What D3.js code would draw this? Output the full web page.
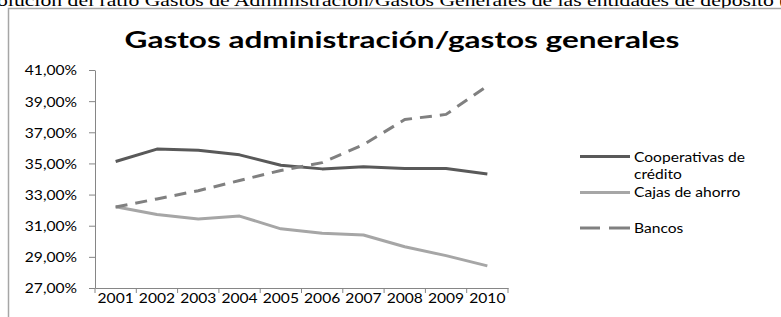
<!DOCTYPE html>
<html><head><meta charset="utf-8">
<script src="https://cdn.jsdelivr.net/npm/d3@7"></script>
<style>
html,body{margin:0;padding:0;background:#fff;overflow:hidden;}
svg{display:block;}
</style></head>
<body>
<svg id="chart" width="781" height="317"></svg>
<script>
const years = ["2001","2002","2003","2004","2005","2006","2007","2008","2009","2010"];
const cooperativas = [35.12, 35.92, 35.85, 35.55, 34.88, 34.65, 34.78, 34.68, 34.68, 34.32];
const cajas = [32.22, 31.72, 31.43, 31.62, 30.8, 30.52, 30.4, 29.65, 29.08, 28.42];
const bancos = [32.2, 32.72, 33.25, 33.9, 34.55, 35.05, 36.2, 37.82, 38.15, 39.98];
const yTicks = [27, 29, 31, 33, 35, 37, 39, 41];
const seriesNames = ["Cooperativas de crédito", "Cajas de ahorro", "Bancos"];
const titleText = "Gastos administración/gastos generales";
const headerText = "olución del ratio Gastos de Administración/Gastos Generales de las entidades de depósito (";

const svg = d3.select("#chart");
const SX = 1.2; // horizontal stretch of the source image
const FONT = "Lato, 'Open Sans', sans-serif";

// header text (document text above the chart, clipped at top)
const hdr = svg.append("text").text(headerText)
  .attr("font-family", "'Liberation Serif', 'Times New Roman', serif")
  .attr("font-size", 16).attr("fill", "#000");
{
  const w = hdr.node().getComputedTextLength();
  const s = 790 / w;
  hdr.attr("transform", `translate(-3,5.5) scale(${s},1)`);
}

// frame
svg.append("rect").attr("x", 8.5).attr("y", 8.5).attr("width", 800).attr("height", 400)
  .attr("fill", "#fff").attr("stroke", "#a6a6a6").attr("stroke-width", 1.5);

// title
const title = svg.append("text").text(titleText)
  .attr("font-family", FONT).attr("font-weight", "bold").attr("font-size", 23)
  .attr("fill", "#000").attr("text-anchor", "middle");
{
  const w = title.node().getComputedTextLength();
  const s = 555 / w;
  title.attr("transform", `translate(402,47.5) scale(${s},1)`);
}

const x = d3.scaleBand().domain(years).range([95, 508]);
const y = d3.scaleLinear().domain([27, 41]).range([288, 70]);
const axisColor = "#868686";

// y axis
const yAxis = svg.append("g").attr("transform", "translate(95,0)")
  .call(d3.axisLeft(y).tickValues(yTicks).tickSize(6).tickSizeOuter(0)
    .tickFormat(d => d3.format(".2f")(d).replace(".", ",") + "%"));
yAxis.select(".domain").attr("stroke", axisColor);
yAxis.selectAll(".tick line").attr("stroke", axisColor);
yAxis.selectAll(".tick text").attr("x", null).attr("dy", null)
  .attr("font-family", FONT).attr("font-size", 13).attr("fill", "#000")
  .attr("text-anchor", "end").attr("dominant-baseline", "central")
  .attr("transform", `translate(-18,0) scale(${SX},1)`);

// x axis
const xAxis = svg.append("g").attr("transform", "translate(0,288)")
  .call(d3.axisBottom(x).tickSize(0).tickSizeOuter(0));
xAxis.select(".domain").attr("stroke", axisColor);
xAxis.selectAll(".tick text").attr("y", null).attr("dy", null)
  .attr("font-family", FONT).attr("font-size", 13).attr("fill", "#000")
  .attr("text-anchor", "middle")
  .attr("transform", `translate(0,15) scale(${SX},1)`);
const bounds = years.map(d => x(d)).concat([x.range()[1]]);
xAxis.selectAll(".bnd").data(bounds).join("line").attr("class", "bnd")
  .attr("x1", d => d).attr("x2", d => d).attr("y1", 0).attr("y2", 5)
  .attr("stroke", axisColor);

// lines
const cx = d => x(d) + x.bandwidth() / 2;
const series = [
  {name: seriesNames[0], values: cooperativas, color: "#595959", dash: null},
  {name: seriesNames[1], values: cajas, color: "#a6a6a6", dash: null},
  {name: seriesNames[2], values: bancos, color: "#808080", dash: "12,8"}
];
const line = d3.line().x((d, i) => cx(years[i])).y(d => y(d));
svg.append("g").selectAll("path").data(series).join("path")
  .attr("d", d => line(d.values)).attr("fill", "none")
  .attr("stroke", d => d.color).attr("stroke-width", 3)
  .attr("stroke-dasharray", d => d.dash).attr("stroke-linejoin", "round");

// legend
const lg = svg.append("g");
const ly = [156.5, 192.5, 228];
series.forEach((s, i) => {
  if (s.dash) {
    lg.append("line").attr("x1", 580).attr("x2", 600).attr("y1", ly[i]).attr("y2", ly[i])
      .attr("stroke", s.color).attr("stroke-width", 3);
    lg.append("line").attr("x1", 609).attr("x2", 630).attr("y1", ly[i]).attr("y2", ly[i])
      .attr("stroke", s.color).attr("stroke-width", 3);
  } else {
    lg.append("line").attr("x1", 580).attr("x2", 630).attr("y1", ly[i]).attr("y2", ly[i])
      .attr("stroke", s.color).attr("stroke-width", 3);
  }
});
const legendLines = [
  ["Cooperativas de", 161.5], ["crédito", 179], ["Cajas de ahorro", 197], ["Bancos", 232.5]
];
legendLines.forEach(([t, by]) => {
  lg.append("text").text(t).attr("font-family", FONT).attr("font-size", 13).attr("fill", "#000")
    .attr("transform", `translate(634,${by}) scale(${SX},1)`);
});
</script>
</body></html>
